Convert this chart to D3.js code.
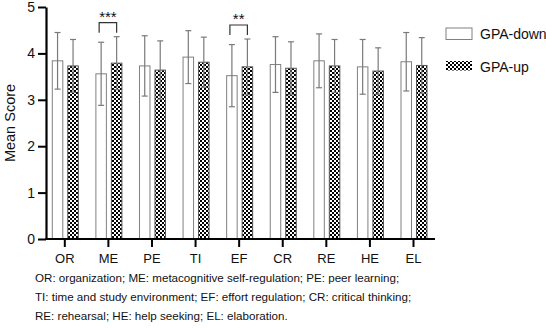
<html>
<head>
<style>
  body{margin:0;background:#fff}
  svg text{font-family:"Liberation Sans",Arial,sans-serif;fill:#111}
</style>
</head>
<body>
<div id="chart"></div>
<script src="https://cdn.jsdelivr.net/npm/d3@7"></script>
<script>
// values
var categories = ['OR', 'ME', 'PE', 'TI', 'EF', 'CR', 'RE', 'HE', 'EL'];
var downMean = [3.84, 3.56, 3.73, 3.92, 3.52, 3.76, 3.84, 3.71, 3.82];
var downSD   = [0.61, 0.68, 0.65, 0.57, 0.67, 0.60, 0.58, 0.59, 0.63];
var upMean   = [3.73, 3.79, 3.64, 3.81, 3.71, 3.68, 3.73, 3.62, 3.74];
var upSD     = [0.57, 0.57, 0.63, 0.54, 0.60, 0.57, 0.57, 0.50, 0.60];
var yTicks   = [0, 1, 2, 3, 4, 5];
var sigCats  = ['ME', 'EF'];
var sigMarks = ['***', '**'];
var seriesNames = ['GPA-down', 'GPA-up'];
var captionLines = [
  'OR: organization; ME: metacognitive self-regulation; PE: peer learning;',
  'TI: time and study environment; EF: effort regulation; CR: critical thinking;',
  'RE: rehearsal; HE: help seeking; EL: elaboration.'
];

(function () {
  var
    width  = 546,
    height = 328,
    x0     = 46,
    xEnd   = 435,
    barW   = 10.5,
    svg    = d3.select('#chart').append('svg')
               .attr('width', width).attr('height', height),
    x      = d3.scalePoint().domain(categories).range([64.3, 413]),
    y      = d3.scaleLinear().domain([0, 5]).range([239, 7]),
    errCol = '#7a7a7a';

  // checker pattern
  var pat = svg.append('defs').append('pattern')
    .attr('id', 'checker')
    .attr('patternUnits', 'userSpaceOnUse')
    .attr('width', 4).attr('height', 4);
  pat.append('rect').attr('width', 4).attr('height', 4).attr('fill', '#fff');
  pat.append('rect').attr('width', 2).attr('height', 2).attr('fill', '#000');
  pat.append('rect').attr('x', 2).attr('y', 2).attr('width', 2).attr('height', 2).attr('fill', '#000');

  var rows = categories.map(function (c, i) {
    return {cat: c, dm: downMean[i], ds: downSD[i], um: upMean[i], us: upSD[i]};
  });

  function barX(d, k) { return k === 0 ? x(d.cat) - 12 : x(d.cat) + 3.5; }

  var g = svg.append('g');

  // bars
  [0, 1].forEach(function (k) {
    g.selectAll('.bar' + k).data(rows).enter().append('rect')
      .attr('x', function (d) { return barX(d, k); })
      .attr('y', function (d) { return y(k === 0 ? d.dm : d.um); })
      .attr('width', barW)
      .attr('height', function (d) { return y(0) - y(k === 0 ? d.dm : d.um); })
      .attr('fill', k === 0 ? '#fff' : 'url(#checker)')
      .attr('stroke', k === 0 ? '#808080' : '#555')
      .attr('stroke-width', 1);

    // error bars
    var e = g.selectAll('.err' + k).data(rows).enter().append('g')
      .attr('stroke', errCol).attr('stroke-width', 1.2).attr('fill', 'none');
    e.append('line')
      .attr('x1', function (d) { return barX(d, k) + barW / 2; })
      .attr('x2', function (d) { return barX(d, k) + barW / 2; })
      .attr('y1', function (d) { return y(k === 0 ? d.dm - d.ds : d.um - d.us); })
      .attr('y2', function (d) { return y(k === 0 ? d.dm + d.ds : d.um + d.us); });
    e.append('line')
      .attr('x1', function (d) { return barX(d, k) + barW / 2 - 3; })
      .attr('x2', function (d) { return barX(d, k) + barW / 2 + 3; })
      .attr('y1', function (d) { return y(k === 0 ? d.dm + d.ds : d.um + d.us); })
      .attr('y2', function (d) { return y(k === 0 ? d.dm + d.ds : d.um + d.us); });
    e.append('line')
      .attr('x1', function (d) { return barX(d, k) + barW / 2 - 3; })
      .attr('x2', function (d) { return barX(d, k) + barW / 2 + 3; })
      .attr('y1', function (d) { return y(k === 0 ? d.dm - d.ds : d.um - d.us); })
      .attr('y2', function (d) { return y(k === 0 ? d.dm - d.ds : d.um - d.us); });
  });

  // significance brackets
  sigCats.forEach(function (c, i) {
    var d = rows[categories.indexOf(c)],
        xl = barX(d, 0) + barW / 2 - 2,
        xr = barX(d, 1) + barW / 2,
        top = y(Math.max(d.dm + d.ds, d.um + d.us)) - 14,
        leg = 10;
    g.append('path')
      .attr('d', 'M' + xl + ',' + (top + leg) + 'V' + top + 'H' + xr + 'V' + (top + leg))
      .attr('fill', 'none').attr('stroke', '#333').attr('stroke-width', 1.2);
    g.append('text')
      .attr('x', (xl + xr) / 2).attr('y', top - 1)
      .attr('text-anchor', 'middle')
      .style('font-size', '15px')
      .text(sigMarks[i]);
  });

  // y axis
  var ya = svg.append('g')
    .attr('transform', 'translate(' + x0 + ',0)')
    .call(d3.axisLeft(y).tickValues(yTicks).tickFormat(d3.format('d')).tickSize(8).tickSizeOuter(0));
  ya.select('.domain').attr('stroke', '#000').attr('stroke-width', 2.2);
  ya.selectAll('.tick line').attr('stroke', '#000').attr('stroke-width', 2);
  ya.selectAll('.tick text').attr('x', -11).style('font-size', '14px')
    .style('font-family', '"Liberation Sans",Arial,sans-serif').attr('fill', '#111');

  // x axis
  var xa = svg.append('g')
    .attr('transform', 'translate(0,' + y(0) + ')')
    .call(d3.axisBottom(x).tickSize(8).tickSizeOuter(0));
  xa.select('.domain').remove();
  xa.append('line').attr('x1', x0 - 1).attr('x2', xEnd)
    .attr('stroke', '#000').attr('stroke-width', 2.2);
  xa.selectAll('.tick line').attr('stroke', '#000').attr('stroke-width', 2);
  xa.selectAll('.tick text').attr('y', 15).style('font-size', '13px')
    .style('font-family', '"Liberation Sans",Arial,sans-serif').attr('fill', '#111');

  // y label
  svg.append('text')
    .attr('transform', 'translate(15,' + y(2.5) + ') rotate(-90)')
    .attr('text-anchor', 'middle')
    .style('font-size', '14.5px')
    .text('Mean Score');

  // legend
  var lg = svg.append('g').attr('transform', 'translate(446,28)');
  seriesNames.forEach(function (s, i) {
    lg.append('rect')
      .attr('x', 0).attr('y', i * 33)
      .attr('width', 26).attr('height', i === 0 ? 11.5 : 9.5)
      .attr('fill', i === 0 ? '#fff' : 'url(#checker)')
      .attr('stroke', i === 0 ? '#808080' : 'none');
    lg.append('text')
      .attr('x', 34).attr('y', i * 33 + 10.5)
      .style('font-size', '14px')
      .text(s);
  });

  // caption
  svg.selectAll('.cap').data(captionLines).enter().append('text')
    .attr('x', 35)
    .attr('y', function (d, i) { return 282 + i * 19.2; })
    .style('font-size', '11.6px')
    .text(function (d) { return d; });
})();
</script>
</body>
</html>
